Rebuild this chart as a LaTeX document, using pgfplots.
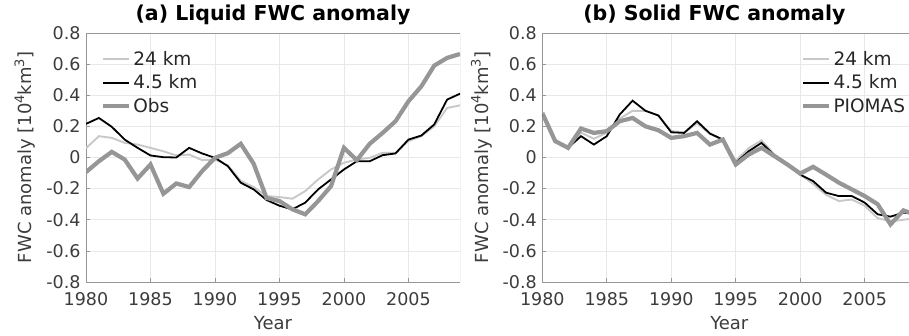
\documentclass[border=0pt]{standalone}
\usepackage{fontspec}
\setmainfont{DejaVu Sans}
\usepackage{pgfplots}
\pgfplotsset{compat=1.18}
\usepackage{pgfplotstable}

\definecolor{lowres}{RGB}{200,200,200}
\definecolor{obsgray}{RGB}{150,150,150}
\definecolor{framegray}{RGB}{150,150,150}
\definecolor{textgray}{RGB}{60,60,60}

\newcommand{\upx}[1]{\raisebox{0.42em}{\fontsize{13}{13}\selectfont #1}}

% Liquid freshwater content anomaly (10^4 km^3)
\pgfplotstableread{
year  lr      hr      obs
1980  0.060   0.216  -0.094
1981  0.137   0.254  -0.024
1982  0.126   0.197   0.036
1983  0.094   0.115  -0.013
1984  0.083   0.062  -0.135
1985  0.062   0.013  -0.045
1986  0.040   0.002  -0.233
1987  0.013   0.000  -0.167
1988  0.019   0.062  -0.190
1989 -0.017   0.026  -0.088
1990 -0.013  -0.002  -0.002
1991 -0.050  -0.056   0.028
1992 -0.150  -0.162   0.088
1993 -0.190  -0.205  -0.040
1994 -0.248  -0.273  -0.260
1995 -0.254  -0.310  -0.280
1996 -0.265  -0.333  -0.333
1997 -0.216  -0.290  -0.365
1998 -0.141  -0.205  -0.280
1999 -0.077  -0.141  -0.184
2000 -0.034  -0.077   0.062
2001 -0.013  -0.024  -0.017
2002 -0.002  -0.024   0.088
2003  0.030   0.015   0.158
2004  0.030   0.026   0.233
2005  0.105   0.115   0.361
2006  0.137   0.141   0.457
2007  0.200   0.212   0.590
2008  0.318   0.372   0.640
2009  0.335   0.410   0.665
}\liquid

% Solid (sea ice) freshwater content anomaly (10^4 km^3)
\pgfplotstableread{
year  lr      hr      piomas
1980  0.270   0.276   0.286
1981  0.100   0.105   0.105
1982  0.062   0.062   0.062
1983  0.160   0.137   0.186
1984  0.120   0.083   0.158
1985  0.160   0.137   0.169
1986  0.250   0.276   0.233
1987  0.300   0.365   0.254
1988  0.300   0.300   0.200
1989  0.270   0.270   0.175
1990  0.170   0.162   0.126
1991  0.160   0.158   0.137
1992  0.220   0.233   0.158
1993  0.150   0.154   0.083
1994  0.115   0.115   0.115
1995 -0.020  -0.034  -0.045
1996  0.060   0.040   0.019
1997  0.110   0.094   0.062
1998  0.020   0.013   0.009
1999 -0.040  -0.045  -0.045
2000 -0.110  -0.110  -0.103
2001 -0.170  -0.152  -0.060
2002 -0.240  -0.226  -0.110
2003 -0.280  -0.248  -0.162
2004 -0.270  -0.248  -0.205
2005 -0.310  -0.290  -0.248
2006 -0.390  -0.365  -0.300
2007 -0.410  -0.380  -0.430
2008 -0.400  -0.355  -0.340
2009 -0.390  -0.360  -0.370
}\solid

\pgfplotsset{
  fwc/.style={
    scale only axis,
    width=374pt, height=249pt,
    ymin=-0.8, ymax=0.8,
    ytick={-0.8,-0.6,-0.4,-0.2,0,0.2,0.4,0.6,0.8},
    yticklabels={-0.8,-0.6,-0.4,-0.2,0,0.2,0.4,0.6,0.8},
    xmin=1980, xmax=2009,
    xtick={1980,1985,1990,1995,2000,2005},
    xticklabels={1980,1985,1990,1995,2000,2005},
    grid=major,
    major grid style={draw=black!9, line width=0.6pt},
    axis line style={draw=framegray, line width=0.7pt},
    tick style={draw=framegray, line width=0.7pt},
    tick align=inside,
    major tick length=4pt,
    axis x line*=bottom, axis y line*=left,
    tick label style={font=\fontsize{17.5}{19}\selectfont, text=textgray},
    xticklabel style={anchor=center, yshift=-17pt},
    yticklabel style={anchor=east, xshift=-2pt},
    xlabel={Year},
    ylabel={FWC anomaly [10\upx{4}km\upx{3}]},
    every axis x label/.style={at={(axis description cs:0.5,-0.165)}, anchor=center,
      font=\fontsize{18}{20}\selectfont, text=textgray},
    every axis y label/.style={at={(axis description cs:-0.163,0.5)}, anchor=center, rotate=90,
      font=\fontsize{18}{20}\selectfont, text=textgray},
    every axis title/.style={at={(axis description cs:0.5,1.072)}, anchor=center,
      font=\bfseries\fontsize{20.5}{22}\selectfont, text=black},
    legend style={draw=none, fill=none, font=\fontsize{18.5}{20}\selectfont, text=black!85,
      row sep=4pt, inner sep=0pt},
    legend cell align=left,
    legend image code/.code={\draw[#1] (0pt,0pt) -- (26pt,0pt);},
  },
}

\begin{document}
\begin{tikzpicture}
\useasboundingbox (0pt,0pt) rectangle (909pt,336pt);

\begin{axis}[fwc, at={(86pt,54pt)}, anchor=south west,
  title={(a) Liquid FWC anomaly},
  legend style={at={(axis description cs:0.04,0.935)}, anchor=north west}]
  \addplot[lowres, line width=1.9pt] table[x=year, y=lr] {\liquid};
  \addlegendentry{24 km}
  \addplot[black, line width=1.8pt] table[x=year, y=hr] {\liquid};
  \addlegendentry{4.5 km}
  \addplot[obsgray, line width=4.2pt] table[x=year, y=obs] {\liquid};
  \addlegendentry{Obs}
  % close the box on top and right
  \draw[framegray, line width=0.7pt] (rel axis cs:0,1) -- (rel axis cs:1,1) -- (rel axis cs:1,0);
\end{axis}

\begin{axis}[fwc, at={(542.3pt,54pt)}, anchor=south west,
  title={(b) Solid FWC anomaly},
  title style={at={(axis description cs:0.46,1.072)}},
  legend style={at={(axis description cs:0.692,0.935)}, anchor=north west}]
  \addplot[lowres, line width=1.9pt] table[x=year, y=lr] {\solid};
  \addlegendentry{24 km}
  \addplot[black, line width=1.8pt] table[x=year, y=hr] {\solid};
  \addlegendentry{4.5 km}
  \addplot[obsgray, line width=4.2pt] table[x=year, y=piomas] {\solid};
  \addlegendentry{PIOMAS}
  \draw[framegray, line width=0.7pt] (rel axis cs:0,1) -- (rel axis cs:1,1) -- (rel axis cs:1,0);
\end{axis}
\end{tikzpicture}
\end{document}
